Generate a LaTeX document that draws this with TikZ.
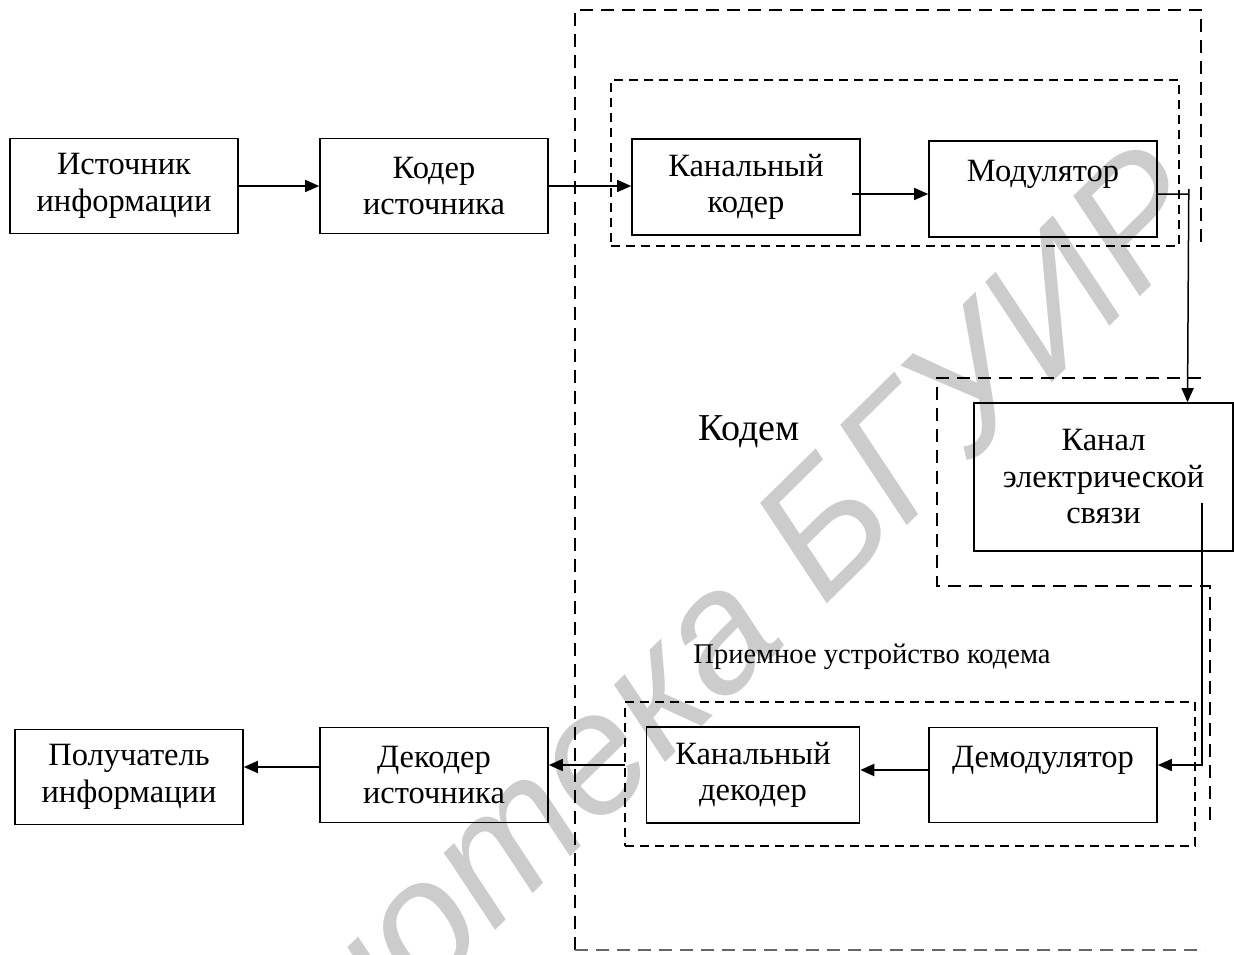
\documentclass[tikz,border=0pt]{standalone}
\usepackage{fontspec}
\setmainfont{Liberation Serif}
\newfontfamily\wmfont{Liberation Sans}
\usetikzlibrary{arrows.meta}
\begin{document}
\begin{tikzpicture}[x=1pt,y=-1pt,
  blk/.style={draw,line width=1.6pt,minimum width=228pt,minimum height=95pt,
    align=center,font=\fontsize{32.5}{36.5}\selectfont,inner sep=0pt},
  arr/.style={line width=1.5pt,-{Triangle[length=14pt,width=12pt]}},
  outerdash/.style={line width=2.4pt,dash pattern=on 13pt off 8pt},
  innerdash/.style={line width=1.6pt,dash pattern=on 9pt off 6pt},
  lbl/.style={inner sep=0pt}]
\useasboundingbox (0,0) rectangle (1234,955);
% watermark
\node[lbl,rotate=44.5,text=black!20,font=\wmfont\itshape\fontsize{172}{172}\selectfont] (wm) at (602,738) {Библиотека БГУИР};
% dashed groupings
\draw[outerdash] (1201,242) -- (1201,10) -- (575,10) -- (575,950);
\draw[outerdash] (1201,378) -- (937,378) -- (937,586) -- (1210,586) -- (1210,822);
\draw[outerdash,line width=1.6pt,black!60] (575,950) -- (1205,950);
\node[draw,innerdash,minimum width=568pt,minimum height=166pt,inner sep=0pt] (txbox) at (895,163) {};
\node[draw,innerdash,minimum width=570pt,minimum height=144pt,inner sep=0pt] (rxbox) at (910,774) {};
% blocks
\node[blk] (src) at (124,186) {Источник\\информации};
\node[blk] (enc) at (434,186) {Кодер\\источника};
\node[blk,minimum height=96pt] (chc) at (746,187) {Канальный\\кодер};
\node[blk,minimum height=96pt] (mod) at (1043,189) {Модулятор\\\mbox{}};
\node[blk,minimum width=259pt,minimum height=148pt] (chan) at (1103.5,477) {Канал\\электрической\\связи};
\node[blk] (dem) at (1043,775) {Демодулятор\\\mbox{}};
\node[blk,minimum width=213pt,minimum height=96pt] (chd) at (753,775) {Канальный\\декодер};
\node[blk] (dec) at (434,775) {Декодер\\источника};
\node[blk] (rcv) at (129,777) {Получатель\\информации};
% labels
\node[lbl,font=\fontsize{38}{44}\selectfont] (kodem) at (749,432) {Кодем};
\node[lbl,font=\fontsize{28.5}{34}\selectfont] (rxlabel) at (872,657) {Приемное устройство кодема};
% connectors
\coordinate (chanout) at (1202,503);
\coordinate (rxin) at (625,765);
\coordinate (chcout) at (852,194);
\coordinate (decout) at (320,767);
\draw[arr] (src.east) -- (enc.west);
\draw[arr] (enc.east) -- (enc.east -| chc.west);
\draw[arr] (chcout) -- (chcout -| mod.west);
\draw[arr] ([shift={(0,5)}]mod.east) -- ++(31,0) ++(0,-5) -- ([xshift=84pt]chan.north);
\draw[arr] (chanout) |- ([shift={(0,-10)}]dem.east);
\draw[arr,line width=2.2pt] ([shift={(0,-5)}]dem.west) -- ([shift={(0,-5)}]chd.east);
\draw[arr] (rxin) -- (rxin -| dec.east);
\draw[arr] (decout) -- (decout -| rcv.east);
\end{tikzpicture}
\end{document}
